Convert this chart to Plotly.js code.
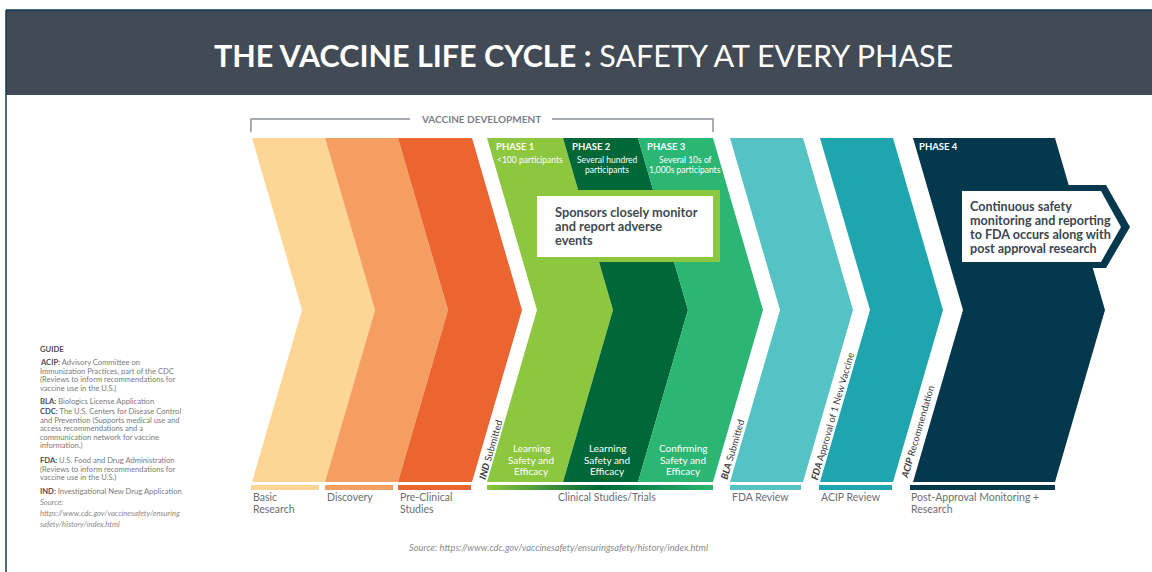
<!DOCTYPE html>
<html>
<head>
<meta charset="utf-8">
<script src="https://cdn.plot.ly/plotly-3.0.1.min.js"></script>
<style>html,body{margin:0;padding:0;background:#fff;}#chart{width:1152px;height:572px;}</style>
</head>
<body>
<div id="chart"></div>
<script>
// ---------------- DATA ----------------
const titleBold = 'THE VACCINE LIFE CYCLE :';
const titleRest = 'SAFETY AT EVERY PHASE';
const bracketLabel = 'VACCINE DEVELOPMENT';
const chevronSteps = ['Basic Research', 'Discovery', 'Pre-Clinical Studies', 'Phase 1', 'Phase 2', 'Phase 3', 'FDA Review', 'ACIP Review', 'Phase 4'];
const stageLabels = ['Basic<br>Research', 'Discovery', 'Pre-Clinical<br>Studies', 'Clinical Studies/Trials', 'FDA Review', 'ACIP Review', 'Post-Approval Monitoring +<br>Research'];
const phaseLabels = ['PHASE 1', 'PHASE 2', 'PHASE 3', 'PHASE 4'];
const participants = ['&lt;100 participants', 'Several hundred<br>participants', 'Several 10s of<br>1,000s participants'];
const trialFocus = ['Learning<br>Safety and<br>Efficacy', 'Learning<br>Safety and<br>Efficacy', 'Confirming<br>Safety and<br>Efficacy'];
const milestoneTerms = ['IND', 'BLA', 'FDA', 'ACIP'];
const milestoneTexts = ['Submitted', 'Submitted', 'Approval of 1 New Vaccine', 'Recommendation'];
const sponsorNote = 'Sponsors closely monitor<br>and report adverse<br>events';
const phase4Note = 'Continuous safety<br>monitoring and reporting<br>to FDA occurs along with<br>post approval research';
const guideTitle = 'GUIDE';
const guideTerms = ['ACIP:', 'BLA:', 'CDC:', 'FDA:', 'IND:'];
const guideDefs = [
  ' Advisory Committee on<br>Immunization Practices, part of the CDC<br>(Reviews to inform recommendations for<br>vaccine use in the U.S.)',
  ' Biologics License Application',
  ' The U.S. Centers for Disease Control<br>and Prevention (Supports medical use and<br>access recommendations and a<br>communication network for vaccine<br>information.)',
  ' U.S. Food and Drug Administration<br>(Reviews to inform recommendations for<br>vaccine use in the U.S.)',
  ' Investigational New Drug Application'
];
const guideSource = 'Source:<br>https://www.cdc.gov/vaccinesafety/ensuring<br>safety/history/index.html';
const footSource = 'Source: https://www.cdc.gov/vaccinesafety/ensuringsafety/history/index.html';

// ---------------- LAYOUT / STYLE ----------------
const FONT = 'Lato, "Open Sans", sans-serif';
const chevColors = ['#FDD595', '#F59E62', '#EA6530', '#8DC63F', '#006838', '#2BB673', '#55C2C3', '#1FA5AE', '#05374D'];
const chevX = [252, 325, 398, 487, 563, 638, 730, 820, 913];
const chevW = [73, 73, 74, 76, 75, 75, 73, 73, 142];
const TOP = 138, BOT = 482, MID = 310, DEPTH = 50;
const barX0 = [251, 325, 398, 487, 730, 819, 910];
const barX1 = [319, 393, 471, 713, 801, 892, 1055];
const barColors = ['#FDD595', '#F59E62', '#EA6530', null, '#55C2C3', '#1FA5AE', '#05374D'];
const labelX = [251, 325, 398, 607, 730, 819, 909];
const labelAnchor = ['left', 'left', 'left', 'center', 'left', 'left', 'left'];
const phaseX = [494, 570, 645, 917];
const partX = [530, 607, 685];
const focusX = [531, 607, 683];
const msX = [490, 732, 832, 917];
const msY = [450, 449, 416, 432];
const guideY = [362, 401, 411, 460, 491];
const GUIDE_LH = 8.6;

const shapes = [];
const annotations = [];
const traces = [];

// place each line of a multi-line text at a fixed spacing
function lines(x, y0, lh, text, opts, wrap) {
  text.split('<br>').forEach((ln, k) => {
    annotations.push(Object.assign({x: x, y: y0 + k * lh, text: wrap ? wrap(ln, k) : ln, yanchor: 'middle'}, opts));
  });
}

// header band and frame
shapes.push({type: 'rect', x0: 6, x1: 1152, y0: 10, y1: 95, fillcolor: '#424B55', line: {width: 0}, layer: 'below'});
shapes.push({type: 'line', x0: 6, x1: 1152, y0: 10, y1: 10, line: {color: '#123A4E', width: 1.5}});
shapes.push({type: 'line', x0: 6, x1: 6, y0: 10, y1: 572, line: {color: '#123A4E', width: 1.5}});

// chevrons
chevronSteps.forEach((name, i) => {
  const x0 = chevX[i], x1 = chevX[i] + chevW[i];
  shapes.push({
    type: 'path',
    path: `M ${x0},${TOP} L ${x1},${TOP} L ${x1 + DEPTH},${MID} L ${x1},${BOT} L ${x0},${BOT} L ${x0 + DEPTH},${MID} Z`,
    fillcolor: chevColors[i], line: {width: 0}
  });
});

// bottom colour bars + labels
stageLabels.forEach((lab, i) => {
  if (barColors[i]) {
    shapes.push({type: 'rect', x0: barX0[i], x1: barX1[i], y0: 485, y1: 490, fillcolor: barColors[i], line: {width: 0}});
  }
  lines(labelX[i], 497, 12, lab, {xanchor: labelAnchor[i], font: {family: FONT, size: 10.5, color: '#6D6E71'}});
});
// gradient bar for clinical trials
traces.push({
  type: 'scatter', mode: 'lines', x: [barX0[3], barX1[3], barX1[3], barX0[3], barX0[3]], y: [485, 485, 490, 490, 485],
  fill: 'toself', line: {width: 0}, hoverinfo: 'skip', showlegend: false,
  fillgradient: {type: 'horizontal', colorscale: [[0, '#8DC63F'], [0.5, '#006838'], [1, '#2BB673']]}
});

// bracket
shapes.push({type: 'path', path: 'M 251,132 L 251,119 L 410,119 M 552,119 L 713,119 L 713,132', line: {color: '#8C9398', width: 1.5}});
annotations.push({x: 481, y: 119, text: '<b>' + bracketLabel + '</b>', xanchor: 'center', yanchor: 'middle',
  font: {family: FONT, size: 10, color: '#7A8288'}});

// phase labels
phaseLabels.forEach((p, i) => {
  annotations.push({x: phaseX[i], y: 146, text: '<b>' + p + '</b>', xanchor: 'left', yanchor: 'middle',
    font: {family: FONT, size: 9.5, color: '#FFFFFF'}});
});
participants.forEach((p, i) => {
  lines(partX[i], 160, 10, p, {xanchor: 'center', font: {family: FONT, size: 8.5, color: '#FFFFFF'}});
});
trialFocus.forEach((t, i) => {
  lines(focusX[i], 448, 11.5, t, {xanchor: 'center', font: {family: FONT, size: 10, color: '#FFFFFF'}});
});

// milestone labels in the gaps
const ang = -Math.atan2(BOT - MID, DEPTH) * 180 / Math.PI;
milestoneTerms.forEach((m, i) => {
  annotations.push({x: msX[i], y: msY[i], text: '<b><i>' + m + '</i></b> ' + milestoneTexts[i], textangle: ang,
    xanchor: 'center', yanchor: 'middle', font: {family: FONT, size: 9.5, color: '#3A3A3A'}});
});

// sponsor box
shapes.push({type: 'rect', x0: 532, x1: 720, y0: 190, y1: 262, fillcolor: '#8DC63F', line: {width: 0}});
shapes.push({type: 'rect', x0: 537, x1: 713, y0: 196, y1: 257, fillcolor: '#FFFFFF', line: {width: 0}});
lines(553, 212, 14, sponsorNote, {xanchor: 'left', font: {family: FONT, size: 12.8, color: '#414A52'}}, s => '<b>' + s + '</b>');

// phase 4 callout
shapes.push({type: 'path', path: 'M 958,185 L 1106,185 L 1130,227 L 1106,268 L 958,268 Z', fillcolor: '#05374D', line: {width: 0}});
shapes.push({type: 'path', path: 'M 962,191 L 1101,191 L 1121,227 L 1101,262 L 962,262 Z', fillcolor: '#FFFFFF', line: {width: 0}});
lines(968, 206, 14.3, phase4Note, {xanchor: 'left', font: {family: FONT, size: 12.6, color: '#3D4650'}}, s => '<b>' + s + '</b>');

// title
annotations.push({x: 583, y: 55, text: '<b>' + titleBold + '</b> ' + titleRest, xanchor: 'center', yanchor: 'middle',
  font: {family: FONT, size: 30.5, color: '#FFFFFF'}});

// guide
const GF = {family: FONT, size: 7.6, color: '#7A7A7A'};
annotations.push({x: 38, y: 349, text: '<b>' + guideTitle + '</b>', xanchor: 'left', yanchor: 'middle', font: {family: FONT, size: 7.6, color: '#4D4D4D'}});
guideTerms.forEach((t, i) => {
  lines(38, guideY[i], GUIDE_LH, guideDefs[i], {xanchor: 'left', font: GF},
    (s, k) => k === 0 ? '<b><span style="color:#4D4D4D">' + t + '</span></b>' + s : s);
});
lines(38, 502, 11, guideSource, {xanchor: 'left', font: {family: FONT, size: 7.6, color: '#8A8A8A'}}, s => '<i>' + s + '</i>');

// footer source
annotations.push({x: 558, y: 547, text: '<i>' + footSource + '</i>', xanchor: 'center', yanchor: 'middle',
  font: {family: FONT, size: 9.3, color: '#8A8A8A'}});

annotations.forEach(a => { a.xref = 'x'; a.yref = 'y'; a.showarrow = false; });
shapes.forEach(s => { s.xref = 'x'; s.yref = 'y'; });

const layout = {
  width: 1152, height: 572,
  margin: {l: 0, r: 0, t: 0, b: 0},
  paper_bgcolor: '#FFFFFF', plot_bgcolor: '#FFFFFF',
  xaxis: {range: [0, 1152], visible: false, fixedrange: true},
  yaxis: {range: [572, 0], visible: false, fixedrange: true},
  showlegend: false,
  shapes: shapes,
  annotations: annotations
};
Plotly.newPlot('chart', traces, layout, {displayModeBar: false, staticPlot: true});
</script>
</body>
</html>
